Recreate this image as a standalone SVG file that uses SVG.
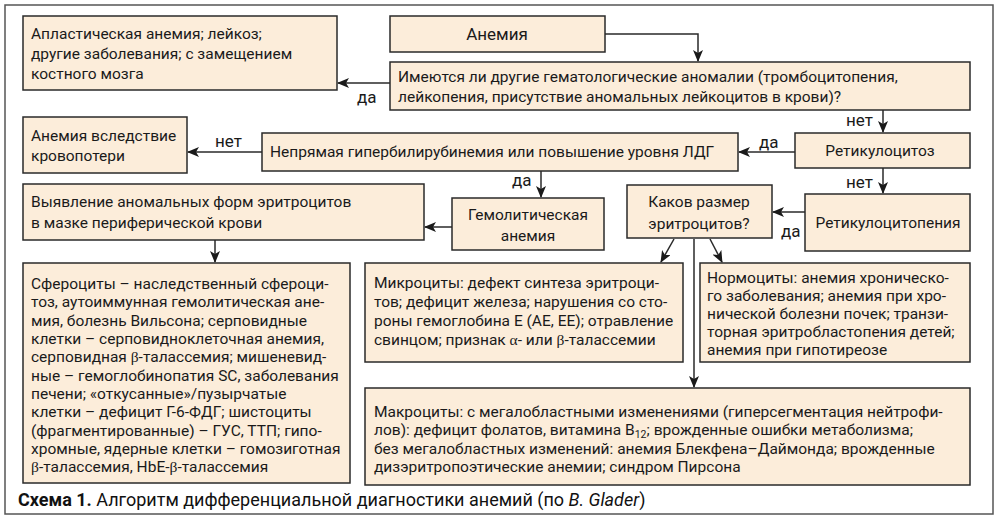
<svg xmlns="http://www.w3.org/2000/svg" width="1000" height="524" viewBox="0 0 1000 524">
<defs>
<marker id="arr" viewBox="0 0 12 10" refX="11" refY="5" markerWidth="12" markerHeight="10" markerUnits="userSpaceOnUse" orient="auto">
<path d="M0,0 L12,5 L0,10 L3,5 Z" fill="#1a1a1a"/>
</marker>
<style>
.box{fill:#FCEDDA;stroke:#2a2a2a;stroke-width:1.5}
.t{font-family:Roboto,"Liberation Sans",sans-serif;font-size:15.5px;fill:#1a1a1a}
.c{text-anchor:middle}
.lbl{font-family:Roboto,"Liberation Sans",sans-serif;font-size:17px;fill:#1a1a1a}
.gr{font-family:"Liberation Serif",serif}
.edge{fill:none;stroke:#2a2a2a;stroke-width:1.5;marker-end:url(#arr)}
.cap{font-family:Roboto,"Liberation Sans",sans-serif;font-size:18px;fill:#111}
</style>
</defs>
<rect x="5" y="5" width="988" height="509" fill="#fff" stroke="#555" stroke-width="1.5"/>

<g id="connectors">
<path class="edge" d="M605,34 H698 V61"/>
<path class="edge" d="M390,83 H338"/>
<path class="edge" d="M883,110 V132"/>
<path class="edge" d="M795,152 H739"/>
<path class="edge" d="M262,152 H188"/>
<path class="edge" d="M541,171 V197"/>
<path class="edge" d="M883,168 V193"/>
<path class="edge" d="M452,227 H425"/>
<path class="edge" d="M805,212 H773"/>
<path class="edge" d="M215,240 V262"/>
<path class="edge" d="M674,239 L661,262"/>
<path class="edge" d="M710,239 L722,262"/>
<path class="edge" d="M694,239 V387"/>
<text class="lbl" x="357" y="103">да</text>
<text class="lbl" x="846" y="126">нет</text>
<text class="lbl" x="759" y="148">да</text>
<text class="lbl" x="215" y="147">нет</text>
<text class="lbl" x="512" y="186">да</text>
<text class="lbl" x="846" y="188">нет</text>
<text class="lbl" x="781" y="237">да</text>
</g>

<g id="n-aplastic">
<rect class="box" x="23" y="16" width="314" height="74"/>
<text class="t" x="31" y="39">Апластическая анемия; лейкоз;</text>
<text class="t" x="31" y="59">другие заболевания; с замещением</text>
<text class="t" x="31" y="79">костного мозга</text>
</g>

<g id="n-anemia">
<rect class="box" x="390" y="16" width="215" height="36"/>
<text class="t c" x="497" y="40" style="font-size:17px">Анемия</text>
</g>

<g id="n-question">
<rect class="box" x="390" y="62" width="580" height="48"/>
<text class="t" x="398" y="82">Имеются ли другие гематологические аномалии (тромбоцитопения,</text>
<text class="t" x="398" y="102">лейкопения, присутствие аномальных лейкоцитов в крови)?</text>
</g>

<g id="n-bloodloss">
<rect class="box" x="23" y="117" width="164" height="56"/>
<text class="t" x="31" y="141">Анемия вследствие</text>
<text class="t" x="31" y="161">кровопотери</text>
</g>

<g id="n-bilirubin">
<rect class="box" x="262" y="133" width="476" height="38"/>
<text class="t" x="270" y="157">Непрямая гипербилирубинемия или повышение уровня ЛДГ</text>
</g>

<g id="n-reticulocytosis">
<rect class="box" x="795" y="133" width="175" height="35"/>
<text class="t c" x="880" y="156">Ретикулоцитоз</text>
</g>

<g id="n-smear">
<rect class="box" x="23" y="184" width="401" height="56"/>
<text class="t" x="31" y="207">Выявление аномальных форм эритроцитов</text>
<text class="t" x="31" y="228">в мазке периферической крови</text>
</g>

<g id="n-hemolytic">
<rect class="box" x="452" y="198" width="152" height="52"/>
<text class="t c" x="528" y="220">Гемолитическая</text>
<text class="t c" x="528" y="241">анемия</text>
</g>

<g id="n-size">
<rect class="box" x="627" y="185" width="145" height="53"/>
<text class="t c" x="699" y="207">Каков размер</text>
<text class="t c" x="699" y="229">эритроцитов?</text>
</g>

<g id="n-reticulocytopenia">
<rect class="box" x="805" y="194" width="165" height="57"/>
<text class="t c" x="888" y="228">Ретикулоцитопения</text>
</g>

<g id="n-spherocytes">
<rect class="box" x="23" y="263" width="327" height="220"/>
<text class="t" x="31" y="289">Сфероциты – наследственный сфероци-</text>
<text class="t" x="31" y="307">тоз, аутоиммунная гемолитическая ане-</text>
<text class="t" x="31" y="326">мия, болезнь Вильсона; серповидные</text>
<text class="t" x="31" y="344">клетки – серповидноклеточная анемия,</text>
<text class="t" x="31" y="362">серповидная <tspan class="gr">β</tspan>-талассемия; мишеневид-</text>
<text class="t" x="31" y="381">ные – гемоглобинопатия SC, заболевания</text>
<text class="t" x="31" y="399">печени; «откусанные»/пузырчатые</text>
<text class="t" x="31" y="417">клетки – дефицит Г-6-ФДГ; шистоциты</text>
<text class="t" x="31" y="436">(фрагментированные) – ГУС, ТТП; гипо-</text>
<text class="t" x="31" y="454">хромные, ядерные клетки – гомозиготная</text>
<text class="t" x="31" y="472"><tspan class="gr">β</tspan>-талассемия, HbE-<tspan class="gr">β</tspan>-талассемия</text>
</g>

<g id="n-micro">
<rect class="box" x="365" y="263" width="318" height="99"/>
<text class="t" x="374" y="288">Микроциты: дефект синтеза эритроци-</text>
<text class="t" x="374" y="307">тов; дефицит железа; нарушения со сто-</text>
<text class="t" x="374" y="326">роны гемоглобина Е (АЕ, ЕЕ); отравление</text>
<text class="t" x="374" y="345">свинцом; признак <tspan class="gr">α</tspan>- или <tspan class="gr">β</tspan>-талассемии</text>
</g>

<g id="n-normo">
<rect class="box" x="700" y="263" width="270" height="99"/>
<text class="t" x="707" y="283">Нормоциты: анемия хроническо-</text>
<text class="t" x="707" y="301">го заболевания; анемия при хро-</text>
<text class="t" x="707" y="319">нической болезни почек; транзи-</text>
<text class="t" x="707" y="337">торная эритробластопения детей;</text>
<text class="t" x="707" y="355">анемия при гипотиреозе</text>
</g>

<g id="n-macro">
<rect class="box" x="365" y="388" width="605" height="97"/>
<text class="t" x="374" y="417">Макроциты: с мегалобластными изменениями (гиперсегментация нейтрофи-</text>
<text class="t" x="374" y="435">лов): дефицит фолатов, витамина B<tspan baseline-shift="-3" font-size="10.5">12</tspan>; врожденные ошибки метаболизма;</text>
<text class="t" x="374" y="454">без мегалобластных изменений: анемия Блекфена–Даймонда; врожденные</text>
<text class="t" x="374" y="472">дизэритропоэтические анемии; синдром Пирсона</text>
</g>

<g id="caption">
<text class="cap" x="18" y="506"><tspan font-weight="bold">Схема 1.</tspan> Алгоритм дифференциальной диагностики анемий (по <tspan font-style="italic">B. Glader</tspan>)</text>
</g>
</svg>
